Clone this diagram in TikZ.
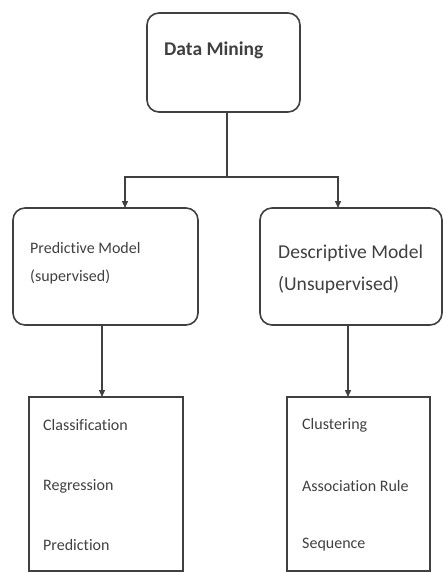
\documentclass[tikz,border=0pt]{standalone}
\usepackage{fontspec}
\setmainfont{Carlito}[Ligatures=NoCommon]
\usetikzlibrary{arrows.meta}
\begin{document}
\begin{tikzpicture}[x=1pt,y=-1pt,
  rbox/.style={draw=black!75,line width=1.6pt,rounded corners=12pt},
  sbox/.style={draw=black!75,line width=1.6pt},
  conn/.style={draw=black!75,line width=1.4pt},
  arr/.style={conn,-{Triangle[length=7pt,width=6pt]}},
  txt/.style={anchor=west,inner sep=0pt,text=black!75}]
\useasboundingbox (0,0) rectangle (443,572);
% top box
\draw[rbox] (147,13) rectangle (300,112);
\node[txt,font=\bfseries\fontsize{19.5}{22}\selectfont] (dm) at (164,50) {Data Mining};
% middle boxes
\draw[rbox] (13,208) rectangle (198,325);
\node[txt,font=\fontsize{16}{19}\selectfont] (pm1) at (30,248) {Predictive Model};
\node[txt,font=\fontsize{16}{19}\selectfont] (pm2) at (30,277) {(supervised)};
\draw[rbox] (260,208) rectangle (442,325);
\node[txt,font=\fontsize{19.6}{22}\selectfont] (dd1) at (278,253) {Descriptive Model};
\node[txt,font=\fontsize{19.6}{22}\selectfont] (dd2) at (278,285) {(Unsupervised)};
% bottom boxes
\draw[sbox] (29,397) rectangle (183,571);
\node[txt,font=\fontsize{16}{19}\selectfont] (c1) at (43,425) {Classification};
\node[txt,font=\fontsize{16}{19}\selectfont] (c2) at (43,486) {Regression};
\node[txt,font=\fontsize{16}{19}\selectfont] (c3) at (43,545) {Prediction};
\draw[sbox] (287,397) rectangle (430,571);
\node[txt,font=\fontsize{16}{19}\selectfont] (d1) at (302,425) {Clustering};
\node[txt,font=\fontsize{16}{19}\selectfont] (d2) at (302,486) {Association Rule};
\node[txt,font=\fontsize{16}{19}\selectfont] (d3) at (302,545) {Sequence};
% connectors
\coordinate (tb) at (227,112);
\coordinate (jn) at (227,177);
\coordinate (jl) at (125,177);
\coordinate (jr) at (338,177);
\coordinate (ml) at (125,208);
\coordinate (mr) at (338,208);
\draw[conn] (tb) -- (jn);
\draw[arr] (jn) -- (jl) -- (ml);
\draw[arr] (jn) -- (jr) -- (mr);
\coordinate (lb) at (102,325);
\coordinate (lt) at (102,397);
\coordinate (rb) at (348,325);
\coordinate (rt) at (348,397);
\draw[arr] (lb) -- (lt);
\draw[arr] (rb) -- (rt);
\end{tikzpicture}
\end{document}
